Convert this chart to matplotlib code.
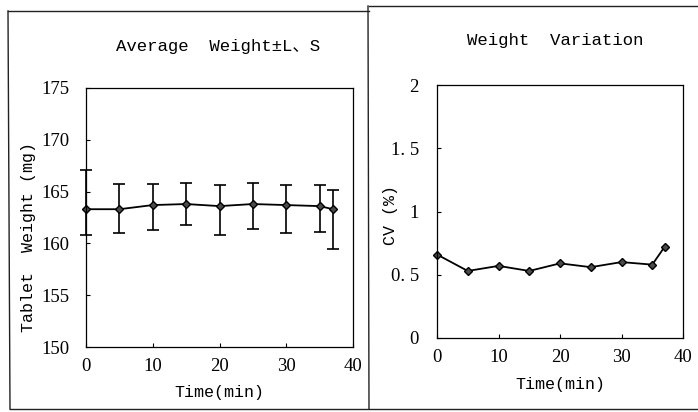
import matplotlib

matplotlib.use("Agg")
import matplotlib.pyplot as plt
from matplotlib.lines import Line2D

W, H = 698, 412

# data
time_min = [0, 5, 10, 15, 20, 25, 30, 35, 37]
weight_mean = [163.3, 163.3, 163.7, 163.8, 163.6, 163.8, 163.7, 163.6, 163.3]
weight_upper = [167.1, 165.7, 165.7, 165.8, 165.6, 165.8, 165.6, 165.6, 165.2]
weight_lower = [160.8, 161.0, 161.3, 161.8, 160.8, 161.4, 161.0, 161.1, 159.5]
cv_pct = [0.66, 0.53, 0.57, 0.53, 0.59, 0.56, 0.60, 0.58, 0.72]

x_ticks = [0, 10, 20, 30, 40]
w_ticks = [150, 155, 160, 165, 170, 175]
cv_ticks = [0, 0.5, 1, 1.5, 2]
cv_tick_labels = ["0", "0. 5", "1", "1. 5", "2"]

MONO = ["Liberation Mono", "Noto Sans CJK JP"]
SERIF = "Liberation Serif"


def rect(x0, y0, x1, y1):
    """pixel box (top-left origin) -> figure fraction [l, b, w, h]"""
    return [x0 / W, 1 - y1 / H, (x1 - x0) / W, (y1 - y0) / H]


def fx(x, y):
    return x / W, 1 - y / H


def style_axes(ax):
    ax.tick_params(direction="in", length=3, width=0.8, labelsize=13.5,
                   top=False, right=False)
    for lab in ax.get_xticklabels() + ax.get_yticklabels():
        lab.set_fontfamily(SERIF)
    for s in ax.spines.values():
        s.set_linewidth(0.9)


fig = plt.figure(figsize=(W / 100, H / 100), dpi=100)

# scanned page frame
frame = dict(color="#222222", linewidth=1.0, transform=fig.transFigure)
for (xa, ya), (xb, yb) in [((8, 11), (369, 11)), ((369, 6), (698, 6)),
                           ((8, 11), (10, 409)), ((368, 6), (369, 409)),
                           ((10, 409), (698, 409))]:
    fig.add_artist(Line2D([xa / W, xb / W], [1 - ya / H, 1 - yb / H], **frame))

# left panel: mean weight with error bars
ax1 = fig.add_axes(rect(86, 88, 353, 347))
yerr = [[m - lo for m, lo in zip(weight_mean, weight_lower)],
        [hi - m for m, hi in zip(weight_mean, weight_upper)]]
ax1.errorbar(time_min, weight_mean, yerr=yerr, color="black", linewidth=1.3,
             elinewidth=1.2, capsize=4, capthick=1.2, marker="D", markersize=4.5,
             markerfacecolor="#4a4a4a", markeredgecolor="black", clip_on=False)
ax1.set_xlim(0, 40)
ax1.set_ylim(150, 175)
ax1.set_xticks(x_ticks)
ax1.set_yticks(w_ticks)
ax1.tick_params(axis="y", pad=12)
ax1.tick_params(axis="x", pad=8)
style_axes(ax1)

fig.text(*fx(218, 47), "Average  Weight±L、S", family=MONO, fontsize=12.5,
         ha="center", va="center")
fig.text(*fx(28, 237), "Tablet  Weight (mg)", family=MONO, fontsize=12,
         rotation=90, ha="center", va="center")
fig.text(*fx(219, 393), "Time(min)", family=MONO, fontsize=12,
         ha="center", va="center")

# right panel: coefficient of variation
ax2 = fig.add_axes(rect(437, 85, 683, 338))
ax2.plot(time_min, cv_pct, color="black", linewidth=1.3, marker="D",
         markersize=4.5, markerfacecolor="#4a4a4a", markeredgecolor="black",
         clip_on=False)
ax2.set_xlim(0, 40)
ax2.set_ylim(0, 2)
ax2.set_xticks(x_ticks)
ax2.set_yticks(cv_ticks)
ax2.set_yticklabels(cv_tick_labels)
ax2.tick_params(axis="y", pad=13)
ax2.tick_params(axis="x", pad=8)
style_axes(ax2)

fig.text(*fx(555, 41), "Weight  Variation", family=MONO, fontsize=12.5,
         ha="center", va="center")
fig.text(*fx(391, 215), "CV (%)", family=MONO, fontsize=12,
         rotation=90, ha="center", va="center")
fig.text(*fx(560, 385), "Time(min)", family=MONO, fontsize=12,
         ha="center", va="center")

fig.savefig("out.png", dpi=100)
